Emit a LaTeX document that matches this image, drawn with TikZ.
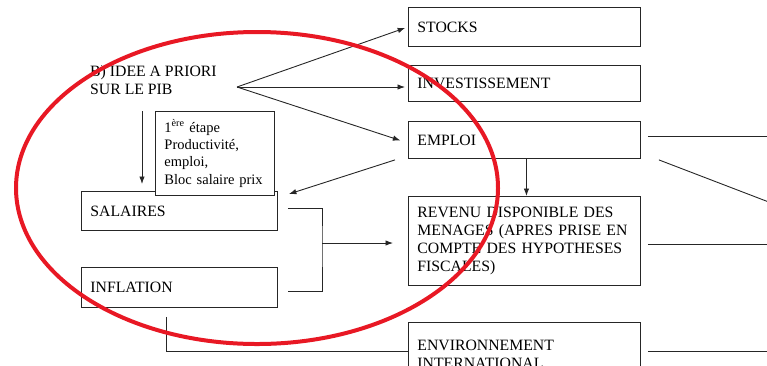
\documentclass[tikz,border=0pt]{standalone}
\usepackage{fontspec}
\setmainfont{Liberation Serif}
\usetikzlibrary{arrows.meta,positioning}
\definecolor{circred}{RGB}{232,24,36}
\tikzset{
  box/.style={draw=black!85, line width=0.9pt, rectangle, anchor=north west, align=left,
    inner xsep=9pt, inner ysep=0pt, font=\fontsize{15.75}{18}\selectfont},
  link/.style={draw=black!85, line width=0.9pt},
  arr/.style={link, -{Latex[length=7.5pt,width=5.5pt]}},
}
\begin{document}
\begin{tikzpicture}[x=1pt,y=-1pt]
  \useasboundingbox (0,0) rectangle (767,365);
  \clip (0,0) rectangle (767,365);

  % right column
  \node[box, text width=214pt, minimum height=39pt] (stocks) at (408,7) {STOCKS};
  \node[box, text width=214pt, minimum height=36pt] (invest) at (408,65) {INVESTISSEMENT};
  \node[box, text width=214pt, minimum height=37pt] (emploi) at (408,121) {EMPLOI};
  \node[box, text width=214pt, minimum height=89pt] (revenu) at (408,196)
    {REVENU DISPONIBLE DES\\MENAGES (APRES PRISE EN\\COMPTE DES HYPOTHESES\\FISCALES)};
  \node[box, text width=214pt, minimum height=64pt] (envir) at (408,322)
    {ENVIRONNEMENT\\INTERNATIONAL};

  % left column
  \node[anchor=west, align=left, inner sep=0pt, font=\fontsize{15.75}{18}\selectfont] (title)
    at (90,80) {B) IDEE A PRIORI\\SUR LE PIB};
  \node[box, text width=178pt, minimum height=39pt] (salaires) at (81,191) {SALAIRES};
  \node[box, text width=178pt, minimum height=40pt] (inflation) at (81,267) {INFLATION};
  \node[box, fill=white, text width=101pt, minimum height=84pt,
    font=\fontsize{14.5}{17.3}\selectfont] (etape) at (155,111)
    {1\textsuperscript{ère} étape\\Productivité,\\emploi,\\Bloc salaire prix};

  % arrows from the PIB
  \coordinate (fork) at (237,87);
  \draw[arr, shorten >=3pt] (fork) -- (stocks.west);
  \draw[arr, shorten >=3pt] (fork) -- (fork -| invest.west);
  \draw[arr, shorten >=8pt] (fork) -- ([yshift=-3pt]emploi.west);
  \draw[arr] ([xshift=-13pt,yshift=-1pt]emploi.south west) -- ([xshift=11pt,yshift=-3pt]salaires.north east);
  \coordinate (down) at (142,111);
  \draw[arr, shorten >=7pt] (down) -- (down |- salaires.north);
  \draw[arr] ([xshift=2pt]emploi.south) -- ([xshift=2pt]revenu.north);

  % bracket to the revenu
  \coordinate (join) at (322,243);
  \draw[link] ([xshift=10pt,yshift=3pt]salaires.east) -| (join) |- ([xshift=10pt,yshift=-4pt]inflation.east);
  \draw[arr, shorten >=15pt] (join) -- (join -| revenu.west);
  \draw[link] ([xshift=-13pt,yshift=-9pt]inflation.south) |- ([yshift=3pt]envir.west);

  % lines leaving to the right
  \draw[link] ([xshift=7pt,yshift=4pt]emploi.east) -- ++(140,0);
  \draw[link] ([xshift=18pt,yshift=-1pt]emploi.south east) -- ++(120,46);
  \draw[link] ([xshift=7pt,yshift=-3pt]revenu.east) -- ++(140,0);
  \draw[link] ([xshift=7pt,yshift=3pt]envir.east) -- ++(140,0);

  % red ring
  \draw[circred, line width=4pt] (257,188) ellipse [x radius=241, y radius=156];
\end{tikzpicture}
\end{document}
